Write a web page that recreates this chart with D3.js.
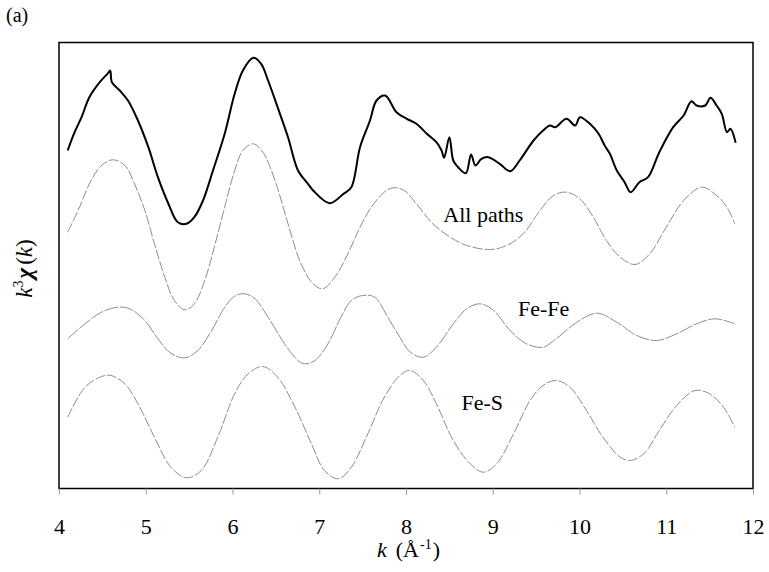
<!DOCTYPE html>
<html>
<head>
<meta charset="utf-8">
<script src="https://cdn.jsdelivr.net/npm/d3@7"></script>
<style>
  body { margin: 0; background: #fff; }
</style>
</head>
<body>
<svg width="769" height="572" font-family="Liberation Serif"></svg>
<script>
// k values and offset k^3 chi(k) (arbitrary units)
const expK = [4.10,4.18,4.26,4.35,4.47,4.565,4.59,4.61,4.70,4.795,4.91,5.03,5.14,5.26,5.37,5.47,5.56,5.66,5.775,5.91,6.025,6.12,6.24,6.33,6.41,6.52,6.64,6.755,6.87,6.93,7.12,7.28,7.37,7.47,7.585,7.66,7.76,7.89,8.01,8.12,8.24,8.35,8.41,8.44,8.50,8.545,8.60,8.69,8.75,8.80,8.87,8.95,9.08,9.20,9.31,9.47,9.58,9.66,9.72,9.85,9.95,10.005,10.12,10.22,10.29,10.35,10.43,10.52,10.59,10.69,10.79,10.92,11.08,11.20,11.29,11.35,11.45,11.51,11.58,11.64,11.70,11.74,11.80];
const expVal = [33.8,35.63,37.13,39.13,40.63,41.53,41.8,40.63,39.8,38.8,36.8,34.13,31.13,28.5,26.63,26.47,27.13,28.8,31.8,35.47,39.47,41.8,43.07,42.47,40.8,38.13,35.13,31.8,30.47,29.8,28.53,29.47,30.13,34.13,36.8,38.8,39.3,37.63,36.97,36.47,35.47,34.63,33.8,33.07,35.13,32.8,32.13,31.53,33.4,32.3,32.97,33.13,32.47,31.73,32.8,34.8,35.8,36.3,36.13,36.97,36.3,37.13,36.47,35.47,34.3,33.47,31.8,30.63,29.63,30.63,31.13,33.63,36.13,37.3,38.73,38.3,38.3,39.07,38.3,37.47,35.63,35.97,34.57];

const allK = [4.10,4.22,4.37,4.49,4.62,4.76,4.87,4.99,5.10,5.22,5.33,5.45,5.56,5.68,5.79,5.91,6.025,6.12,6.24,6.35,6.49,6.64,6.79,6.93,7.04,7.18,7.33,7.47,7.60,7.75,7.85,7.98,8.12,8.31,8.51,8.70,8.97,9.16,9.35,9.545,9.70,9.85,10.005,10.16,10.31,10.47,10.64,10.81,11.00,11.20,11.41,11.58,11.70,11.79];
const allVal = [25.63,27.8,30.8,32.3,32.87,32.3,30.47,27.8,24.47,21.13,18.8,17.87,18.47,20.8,24.13,28.13,31.8,33.8,34.47,33.63,30.8,26.47,22.47,20.47,19.97,21.13,23.47,26.13,28.13,29.63,30.07,29.8,28.47,26.47,25.13,24.3,23.9,24.3,25.47,27.8,29.3,29.63,28.97,27.13,24.8,23.13,22.4,23.47,26.13,28.8,30.13,29.3,28.13,26.47];

const feFeK = [4.10,4.30,4.49,4.68,4.815,4.99,5.14,5.29,5.45,5.60,5.76,5.91,6.025,6.14,6.26,6.41,6.60,6.755,6.83,6.95,7.10,7.25,7.37,7.50,7.64,7.79,7.93,8.05,8.20,8.35,8.545,8.70,8.85,9.01,9.20,9.39,9.58,9.73,9.97,10.20,10.43,10.66,10.89,11.12,11.35,11.56,11.79];
const feFeVal = [14.97,16.47,17.63,18.13,17.97,16.8,14.97,13.53,13.07,13.8,15.8,18.13,19.23,19.47,18.97,17.13,14.47,12.8,12.47,12.8,14.47,17.13,18.8,19.3,19.13,17.13,15.13,13.63,13.13,14.13,16.47,17.97,18.47,17.8,15.8,14.47,14.13,14.97,16.63,17.53,16.63,15.3,14.8,15.47,16.47,16.97,16.47];

const feSK = [4.10,4.30,4.49,4.60,4.76,4.91,5.10,5.29,5.47,5.64,5.83,6.025,6.18,6.35,6.52,6.72,6.91,7.06,7.22,7.37,7.56,7.75,7.95,8.05,8.20,8.35,8.545,8.74,8.89,9.045,9.24,9.43,9.58,9.73,9.89,10.08,10.27,10.47,10.58,10.74,10.92,11.12,11.33,11.50,11.66,11.79];
const feSVal = [7.13,10.13,11.2,11.3,10.47,8.47,5.13,2.13,1.07,1.8,5.13,9.47,11.47,12.2,11.13,8.13,4.47,1.8,0.97,2.13,5.47,9.13,11.47,11.8,10.8,8.47,4.8,2.47,1.63,2.47,5.47,8.8,10.3,10.8,10.13,7.8,5.13,3.13,2.8,3.47,5.8,8.3,9.8,9.47,8.13,6.13];

const xTicks = [4, 5, 6, 7, 8, 9, 10, 11, 12];
const curveLabels = ["All paths", "Fe-Fe", "Fe-S"];

const serif = "Liberation Serif";

const margin = {left: 59, top: 42.5, right: 16, bottom: 83.5};
const width = 769 - margin.left - margin.right;
const height = 572 - margin.top - margin.bottom;

const svg = d3.select("svg");
const g = svg.append("g")
    .attr("transform", `translate(${margin.left},${margin.top})`);

const x = d3.scaleLinear().domain([4, 12]).range([0, width]);
const y = d3.scaleLinear().domain([0, 44.6]).range([height, 0]);

const line = d3.line()
    .x(d => x(d[0]))
    .y(d => y(d[1]))
    .curve(d3.curveCatmullRom);

const series = [
    {k: expK, v: expVal, stroke: "#000", sw: 2, dash: null},
    {k: allK, v: allVal, stroke: "#8c8c8c", sw: 1, dash: "10,2"},
    {k: feFeK, v: feFeVal, stroke: "#8c8c8c", sw: 1, dash: "14,1.5"},
    {k: feSK, v: feSVal, stroke: "#8c8c8c", sw: 1, dash: "10,2"}
];

g.selectAll("path.curve")
    .data(series)
    .join("path")
    .attr("class", "curve")
    .attr("fill", "none")
    .attr("stroke", d => d.stroke)
    .attr("stroke-width", d => d.sw)
    .attr("stroke-dasharray", d => d.dash)
    .attr("stroke-linejoin", "round")
    .attr("d", d => line(d.k.map((k, i) => [k, d.v[i]])));

// frame
g.append("rect")
    .attr("x", 0).attr("y", 0)
    .attr("width", width).attr("height", height)
    .attr("fill", "none")
    .attr("stroke", "#000")
    .attr("stroke-width", 1.5);

// x axis
const xAxis = g.append("g")
    .attr("transform", `translate(0,${height})`)
    .call(d3.axisBottom(x).tickValues(xTicks).tickSize(6).tickPadding(24).tickFormat(d3.format("d")));
xAxis.attr("font-family", serif).attr("font-size", 22);
xAxis.select(".domain").remove();
xAxis.selectAll(".tick line").attr("stroke", "#999");
xAxis.selectAll(".tick text")
    .attr("font-family", serif)
    .attr("font-size", 22)
    .attr("fill", "#000");

// curve labels
const labelPos = [[8.43, 26.65], [9.29, 17.25], [8.64, 7.85]];
g.selectAll("text.curve-label")
    .data(curveLabels)
    .join("text")
    .attr("class", "curve-label")
    .attr("x", (d, i) => x(labelPos[i][0]))
    .attr("y", (d, i) => y(labelPos[i][1]))
    .attr("font-family", serif)
    .attr("font-size", 22)
    .text(d => d);

// axis titles
const xt = svg.append("text")
    .attr("x", 377)
    .attr("y", 557)
    .attr("font-family", serif)
    .attr("font-size", 22);
xt.append("tspan").attr("font-style", "italic").text("k");
xt.append("tspan").attr("dx", 9).text("(Å");
xt.append("tspan").attr("dy", -8).attr("dx", 1).attr("font-size", 14).text("-1");
xt.append("tspan").attr("dy", 8).attr("dx", 1).text(")");

const yt = svg.append("text")
    .attr("transform", `translate(32,${margin.top + height / 2 + 3}) rotate(-90)`)
    .attr("text-anchor", "middle")
    .attr("font-family", serif)
    .attr("font-size", 23);
yt.append("tspan").attr("font-style", "italic").text("k");
yt.append("tspan").attr("dy", -9).attr("font-size", 14).text("3");
yt.append("tspan").attr("dy", 9).attr("dx", 2).attr("font-style", "italic").attr("font-weight", "bold").text("χ");
yt.append("tspan").attr("dx", 3).text("(");
yt.append("tspan").attr("font-style", "italic").text("k");
yt.append("tspan").text(")");

svg.append("text")
    .attr("x", 6)
    .attr("y", 22)
    .attr("font-family", serif)
    .attr("font-size", 20)
    .text("(a)");
</script>
</body>
</html>
